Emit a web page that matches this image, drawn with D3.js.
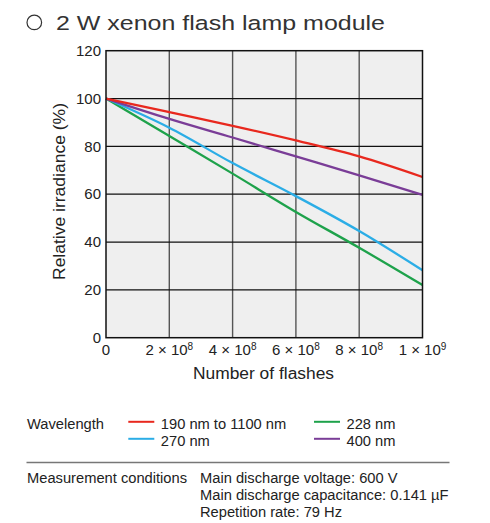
<!DOCTYPE html>
<html>
<head>
<meta charset="utf-8">
<script src="https://cdn.jsdelivr.net/npm/d3@7"></script>
<style>
  body { margin: 0; background: #fff; }
  svg text { font-family: "Liberation Sans", Arial, Helvetica, sans-serif; fill: #222; }
</style>
</head>
<body>
<svg id="chart" width="490" height="523"></svg>
<script>
// Flash count (x) and relative irradiance (%) per wavelength band
const flashes = [0, 2e8, 4e8, 6e8, 8e8, 1e9];
const broadband = [100, 94.3, 88.6, 82.5, 75.8, 67.2];   // 190 nm to 1100 nm
const nm228 = [100, 84.3, 68.6, 52.6, 37.6, 22.0];
const nm270 = [100, 87.8, 73.0, 59.2, 44.6, 28.2];
const nm400 = [100, 91.5, 83.7, 75.8, 67.9, 59.7];

const yTicks = [0, 20, 40, 60, 80, 100, 120];
const xTickMant = ["0", "2", "4", "6", "8", "1"];
const xTickExp = ["", "8", "8", "8", "8", "9"];

const series = [
  { name: "190 nm to 1100 nm", values: broadband, color: "#e8281e" },
  { name: "228 nm", values: nm228, color: "#1ea24b" },
  { name: "270 nm", values: nm270, color: "#2bade6" },
  { name: "400 nm", values: nm400, color: "#7a3d97" }
];

const svg = d3.select("#chart");
const plot = { left: 106, right: 422.5, top: 50.7, bottom: 337.7 };

const x = d3.scaleLinear().domain([0, 1e9]).range([plot.left, plot.right]);
const y = d3.scaleLinear().domain([0, 120]).range([plot.bottom, plot.top]);

// Title with hollow bullet
svg.append("circle").attr("cx", 34.3).attr("cy", 22.4).attr("r", 7.3)
  .attr("fill", "none").attr("stroke", "#333").attr("stroke-width", 1.2);
svg.append("text").attr("x", 56).attr("y", 29.5)
  .attr("textLength", 329).attr("lengthAdjust", "spacingAndGlyphs")
  .style("font-size", "20.5px").style("fill", "#333")
  .text("2 W xenon flash lamp module");

// Plot background
svg.append("rect")
  .attr("x", plot.left).attr("y", plot.top)
  .attr("width", plot.right - plot.left).attr("height", plot.bottom - plot.top)
  .attr("fill", "#efefef");

// Vertical grid
svg.append("g").selectAll("line").data(flashes.slice(1, -1)).join("line")
  .attr("x1", d => x(d)).attr("x2", d => x(d))
  .attr("y1", plot.top).attr("y2", plot.bottom)
  .attr("stroke", "#555").attr("stroke-width", 1.4);

// Horizontal grid
svg.append("g").selectAll("line").data(yTicks.slice(1, -1)).join("line")
  .attr("x1", plot.left).attr("x2", plot.right)
  .attr("y1", d => y(d)).attr("y2", d => y(d))
  .attr("stroke", "#111").attr("stroke-width", 1.2);

// Curves
const line = d3.line().x((d, i) => x(flashes[i])).y(d => y(d)).curve(d3.curveMonotoneX);
const drawOrder = [series[1], series[2], series[3], series[0]];
svg.append("g").selectAll("path").data(drawOrder).join("path")
  .attr("d", d => line(d.values))
  .attr("fill", "none").attr("stroke", d => d.color).attr("stroke-width", 2.3);

// Frame
svg.append("rect")
  .attr("x", plot.left).attr("y", plot.top)
  .attr("width", plot.right - plot.left).attr("height", plot.bottom - plot.top)
  .attr("fill", "none").attr("stroke", "#111").attr("stroke-width", 1.5);

// Y tick labels
svg.append("g").selectAll("text").data(yTicks).join("text")
  .attr("x", 101).attr("y", d => y(d) + 5.2)
  .attr("text-anchor", "end").style("font-size", "15px")
  .text(d => d);

// X tick labels
const xt = svg.append("g").selectAll("text").data(flashes).join("text")
  .attr("x", d => x(d)).attr("y", 355)
  .attr("text-anchor", "middle").style("font-size", "15px");
xt.each(function(d, i) {
  const t = d3.select(this);
  if (xTickExp[i] === "") { t.text(xTickMant[i]); return; }
  t.append("tspan").text(xTickMant[i] + " × 10");
  t.append("tspan").attr("dy", -5.5).style("font-size", "10px").text(xTickExp[i]);
});

// Axis titles
svg.append("text").attr("x", 263.5).attr("y", 378.5)
  .attr("text-anchor", "middle").style("font-size", "16px")
  .attr("textLength", 141).attr("lengthAdjust", "spacingAndGlyphs")
  .text("Number of flashes");
svg.append("text")
  .attr("transform", "translate(65,191.5) rotate(-90)")
  .attr("text-anchor", "middle").style("font-size", "16px")
  .attr("textLength", 177).attr("lengthAdjust", "spacingAndGlyphs")
  .text("Relative irradiance (%)");

// Legend
const legendFont = "14.7px";
svg.append("text").attr("x", 27).attr("y", 428.5).style("font-size", legendFont).text("Wavelength");
const legendPos = [
  { s: series[0], lx: 128.3, ty: 428.5 },
  { s: series[1], lx: 314, ty: 428.5 },
  { s: series[2], lx: 128.3, ty: 445.5 },
  { s: series[3], lx: 314, ty: 445.5 }
];
const lg = svg.append("g").selectAll("g").data(legendPos).join("g");
lg.append("line")
  .attr("x1", d => d.lx).attr("x2", d => d.lx + 26)
  .attr("y1", d => d.ty - 6.7).attr("y2", d => d.ty - 6.7)
  .attr("stroke", d => d.s.color).attr("stroke-width", 2);
lg.append("text").attr("x", d => d.lx + 32.5).attr("y", d => d.ty)
  .style("font-size", legendFont).text(d => d.s.name);

// Separator
svg.append("line").attr("x1", 26.5).attr("x2", 449.5).attr("y1", 462.5).attr("y2", 462.5)
  .attr("stroke", "#777").attr("stroke-width", 1.3);

// Measurement conditions
const conditions = [
  "Main discharge voltage: 600 V",
  "Main discharge capacitance: 0.141 µF",
  "Repetition rate: 79 Hz"
];
svg.append("text").attr("x", 27).attr("y", 483.3).style("font-size", legendFont).text("Measurement conditions");
svg.append("g").selectAll("text").data(conditions).join("text")
  .attr("x", 200).attr("y", (d, i) => 483.3 + i * 16.7)
  .style("font-size", legendFont).text(d => d);
</script>
</body>
</html>
